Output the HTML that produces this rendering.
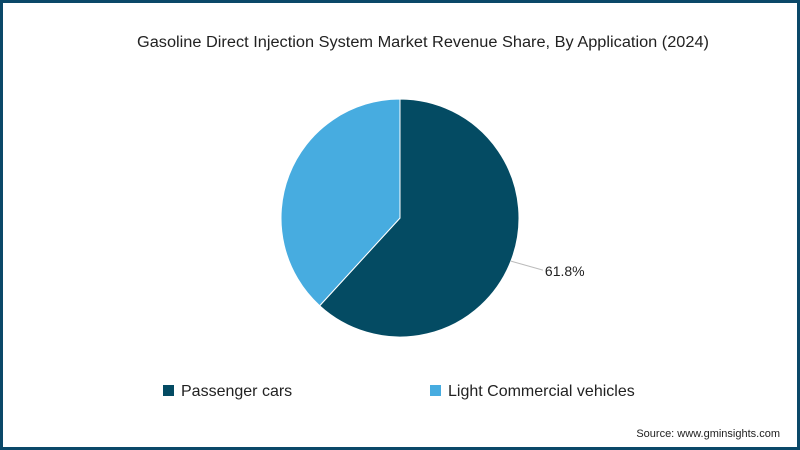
<!DOCTYPE html>
<html><head><meta charset="utf-8"><style>
html,body{margin:0;padding:0;background:#fff}
#wrap{position:relative;width:800px;height:450px;box-sizing:border-box;border:3px solid #0b4868;overflow:hidden;font-family:"Liberation Sans",sans-serif}
</style></head><body>
<div id="wrap">
<svg id="svg" width="794" height="444" viewBox="3 3 794 444" style="position:absolute;left:0;top:0">
<text x="423" y="47" text-anchor="middle" font-size="15.5" textLength="572" lengthAdjust="spacingAndGlyphs" fill="#222">Gasoline Direct Injection System Market Revenue Share, By Application (2024)</text>
<g id="pie"></g>
<g>
<g>
<rect x="163" y="385" width="11" height="11" fill="#044b63"/>
<text x="181" y="396" font-size="16" fill="#222">Passenger cars</text></g>
<g>
<rect x="430" y="385" width="11" height="11" fill="#47ace0"/>
<text x="448" y="396" font-size="16" fill="#222">Light Commercial vehicles</text></g>
</g>
<text x="780" y="437" text-anchor="end" font-size="11" fill="#222">Source: www.gminsights.com</text>
</svg>
</div>
<script>
const categories = ["Passenger cars", "Light Commercial vehicles"];
const values = [61.8, 38.2];
const labels = ["61.8%", ""];
const colors = ["#044b63", "#47ace0"];
const cx = 400, cy = 218, r = 119;
const ns = "http://www.w3.org/2000/svg";
const g = document.getElementById("pie");
const total = values.reduce((a, b) => a + b, 0);
let start = 0;
values.forEach((v, i) => {
  const a0 = start / total * 2 * Math.PI, a1 = (start + v) / total * 2 * Math.PI;
  const x0 = cx + r * Math.sin(a0), y0 = cy - r * Math.cos(a0);
  const x1 = cx + r * Math.sin(a1), y1 = cy - r * Math.cos(a1);
  const large = (a1 - a0) > Math.PI ? 1 : 0;
  const p = document.createElementNS(ns, "path");
  p.setAttribute("d", `M${cx},${cy} L${x0},${y0} A${r},${r} 0 ${large} 1 ${x1},${y1} Z`);
  p.setAttribute("fill", colors[i]);
  p.setAttribute("stroke", "#fff");
  p.setAttribute("stroke-width", "1");
  
  
  g.appendChild(p);
  if (labels[i]) {
    const am = (a0 + a1) / 2;
    const lx0 = cx + r * Math.sin(am), ly0 = cy - r * Math.cos(am);
    const ln = document.createElementNS(ns, "polyline");
    ln.setAttribute("points", `${lx0},${ly0} ${lx0 + 32},${ly0 + 9}`);
    ln.setAttribute("stroke", "#bbb");
    ln.setAttribute("fill", "none");
    
    
    g.appendChild(ln);
    const t = document.createElementNS(ns, "text");
    t.setAttribute("x", lx0 + 34);
    t.setAttribute("y", ly0 + 15);
    t.setAttribute("font-size", "14");
    t.setAttribute("fill", "#222");
    t.textContent = labels[i];
    
    
    g.appendChild(t);
  }
  start += v;
});
</script>
</body></html>
